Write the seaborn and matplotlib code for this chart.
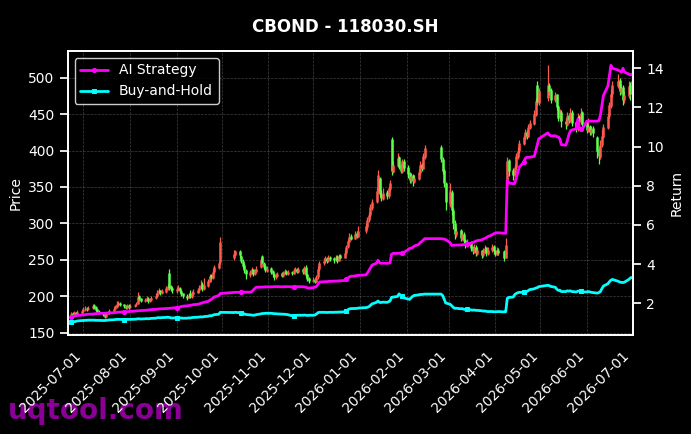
import pandas as pd
import seaborn as sns
import matplotlib.pyplot as plt
import matplotlib.dates as mdates

# Trading days (SSE calendar, holidays removed)
holidays = ['2025-10-01', '2025-10-02', '2025-10-03', '2025-10-06', '2025-10-07', '2025-10-08',
            '2026-01-01', '2026-01-02',
            '2026-02-16', '2026-02-17', '2026-02-18', '2026-02-19', '2026-02-20', '2026-02-23',
            '2026-04-06', '2026-05-01', '2026-05-04', '2026-05-05', '2026-06-19']
dates = pd.bdate_range('2025-06-23', '2026-07-01')
dates = dates[~dates.isin(pd.to_datetime(holidays))]

opens = [
    172, 177, 174, 178, 175, 177,
    180, 181, 184, 182, 184, 188, 185, 182, 179, 178, 176, 172, 176, 177, 180, 183, 185, 189, 191, 189, 187, 184, 188,
    185, 186, 188, 190, 200, 197, 193, 194, 198, 193, 195, 197, 200, 204, 208, 204, 206, 210, 232, 214, 211,
    207, 209, 212, 207, 204, 201, 198, 204, 199, 203, 205, 208, 211, 217, 210, 214, 220, 229, 225, 233, 239, 247,
    252, 257, 262, 255, 249, 243, 236, 229, 232, 237, 230, 234, 240, 255, 246, 241, 235,
    239, 235, 231, 226, 228, 232, 228, 231, 235, 230, 234, 231, 235, 238, 233, 238, 233, 240, 230, 225,
    221, 224, 220, 226, 237, 245, 248, 253, 248, 254, 252, 250, 255, 249, 256, 253, 259, 267, 275, 283, 279, 287, 282,
    289, 295, 304, 311, 321, 330, 344, 362, 341, 334, 343, 337, 347, 416, 371, 379, 391, 379, 371, 386,
    377, 369, 359, 366, 357, 361, 369, 381, 375, 391, 405, 389, 373, 355,
    326, 343, 318, 301, 284, 291, 279, 286, 277, 269, 274, 267, 261, 268, 258, 263, 256, 261, 267, 258, 263, 269,
    263, 257, 264, 262, 253, 358, 387, 373, 365, 377, 391, 399, 409, 417, 426, 419, 431, 437, 449, 490, 465,
    472, 490, 483, 469, 477, 461, 444, 453, 441, 435, 449, 441, 453, 439, 429, 447, 439, 453,
    437, 427, 433, 425, 431, 418, 401, 391, 407, 419, 431, 447, 461, 477, 489, 497, 481, 487, 469, 475, 490,
    477,
]
highs = [
    179, 178, 180, 179, 181, 183,
    185, 186, 185, 187, 189, 190, 186, 183, 181, 179, 177, 178, 180, 182, 185, 188, 193, 194, 192, 190, 188, 189, 189,
    189, 190, 192, 206, 202, 198, 198, 200, 199, 198, 200, 204, 208, 211, 209, 210, 214, 217, 238, 216, 213,
    213, 215, 213, 208, 205, 203, 205, 208, 207, 210, 212, 216, 222, 219, 225, 224, 231, 230, 237, 243, 248, 281,
    263, 264, 263, 256, 251, 245, 238, 236, 240, 238, 238, 241, 252, 257, 247, 243, 241,
    240, 236, 232, 232, 234, 233, 235, 237, 236, 236, 235, 239, 240, 239, 240, 239, 241, 243, 231, 226,
    226, 225, 229, 241, 248, 252, 255, 254, 256, 255, 254, 257, 256, 258, 258, 263, 271, 279, 287, 285, 290, 289, 296,
    300, 309, 316, 326, 334, 350, 373, 364, 346, 348, 346, 352, 360, 418, 386, 396, 393, 381, 389, 388,
    380, 371, 369, 368, 366, 374, 385, 383, 397, 407, 407, 391, 375, 357,
    355, 346, 321, 305, 295, 293, 290, 288, 279, 278, 276, 269, 272, 270, 267, 264, 266, 270, 268, 268, 272, 270,
    264, 267, 266, 263, 280, 391, 389, 376, 382, 396, 405, 414, 422, 430, 428, 437, 442, 455, 472, 496, 486,
    517, 492, 486, 480, 478, 463, 457, 455, 444, 453, 451, 459, 455, 441, 452, 449, 458, 454,
    440, 445, 435, 434, 433, 420, 405, 415, 428, 437, 452, 467, 484, 496, 505, 499, 491, 490, 482, 495, 494,
    515,
]
lows = [
    170, 172, 173, 173, 174, 176,
    178, 180, 180, 181, 183, 183, 180, 177, 175, 173, 170, 171, 175, 176, 179, 182, 184, 187, 186, 184, 182, 183, 183,
    184, 185, 187, 189, 194, 192, 192, 193, 191, 192, 194, 196, 199, 203, 202, 203, 205, 209, 209, 207, 205,
    205, 208, 204, 200, 197, 195, 197, 197, 198, 202, 204, 206, 210, 207, 209, 213, 219, 222, 224, 232, 237, 244,
    250, 255, 253, 245, 239, 232, 224, 227, 231, 228, 229, 233, 239, 244, 237, 233, 233,
    231, 226, 222, 224, 227, 226, 227, 230, 229, 229, 229, 230, 234, 232, 232, 230, 231, 227, 221, 218,
    219, 218, 219, 224, 235, 243, 246, 245, 247, 249, 246, 248, 246, 248, 251, 252, 258, 266, 274, 277, 278, 280, 281,
    287, 293, 302, 309, 319, 328, 342, 336, 331, 332, 333, 335, 345, 366, 369, 377, 374, 369, 369, 372,
    362, 355, 356, 352, 355, 359, 367, 372, 374, 389, 384, 368, 350, 318,
    322, 312, 292, 278, 281, 276, 277, 272, 266, 267, 262, 258, 260, 255, 256, 252, 254, 259, 255, 256, 261, 258,
    255, 256, 257, 249, 252, 355, 365, 359, 363, 375, 389, 397, 407, 415, 416, 418, 429, 435, 447, 462, 463,
    468, 476, 465, 466, 455, 440, 441, 432, 430, 433, 438, 439, 434, 425, 427, 436, 437, 430,
    424, 425, 421, 422, 418, 390, 382, 389, 405, 417, 429, 445, 459, 474, 486, 476, 478, 462, 465, 472, 470,
    474,
]
closes = [
    176, 174, 177, 175, 178, 180,
    181, 183, 182, 184, 186, 184, 181, 179, 177, 175, 172, 176, 178, 180, 183, 186, 190, 191, 188, 186, 184, 187, 185,
    187, 188, 190, 199, 196, 194, 195, 197, 193, 196, 198, 201, 205, 208, 204, 207, 211, 214, 212, 210, 208,
    210, 213, 207, 203, 200, 198, 202, 199, 204, 206, 209, 212, 216, 210, 215, 221, 228, 225, 234, 240, 246, 274,
    258, 262, 256, 248, 242, 236, 230, 233, 237, 231, 235, 238, 250, 246, 240, 236, 238,
    234, 230, 226, 229, 231, 228, 232, 235, 231, 233, 232, 236, 238, 234, 237, 233, 237, 229, 224, 221,
    223, 220, 226, 238, 246, 249, 252, 248, 253, 251, 250, 254, 249, 255, 253, 260, 268, 276, 282, 279, 286, 283, 290,
    296, 305, 312, 322, 330, 345, 366, 340, 335, 342, 338, 348, 356, 372, 380, 390, 378, 372, 385, 376,
    368, 360, 365, 358, 362, 370, 380, 376, 392, 403, 388, 372, 356, 330,
    345, 318, 300, 285, 290, 280, 286, 276, 270, 274, 266, 262, 268, 259, 263, 257, 262, 266, 259, 264, 268, 262,
    258, 263, 260, 252, 270, 385, 372, 366, 378, 392, 400, 410, 418, 425, 420, 432, 438, 450, 468, 466, 482,
    490, 482, 470, 476, 460, 445, 452, 440, 436, 448, 442, 452, 438, 430, 446, 440, 452, 436,
    428, 432, 426, 430, 424, 400, 392, 408, 420, 432, 448, 462, 478, 490, 496, 482, 486, 470, 476, 488, 478,
    495,
]

ai_strategy = [
    1.32, 1.33, 1.35, 1.36, 1.38, 1.40,
    1.41, 1.42, 1.43, 1.44, 1.45, 1.46, 1.47, 1.48, 1.49, 1.49, 1.49, 1.50, 1.50, 1.51, 1.52, 1.53, 1.54, 1.55, 1.55,
    1.56, 1.57, 1.57, 1.58,
    1.59, 1.60, 1.61, 1.62, 1.62, 1.63, 1.64, 1.65, 1.66, 1.67, 1.68, 1.69, 1.70, 1.71, 1.72, 1.72, 1.73, 1.74, 1.74,
    1.75, 1.76,
    1.78, 1.80, 1.81, 1.83, 1.85, 1.87, 1.88, 1.90, 1.91, 1.93, 1.95, 1.97, 2.00, 2.02, 2.05, 2.10, 2.16, 2.20, 2.26,
    2.32, 2.40, 2.50,
    2.55, 2.56, 2.56, 2.57, 2.57, 2.57, 2.57, 2.57, 2.60, 2.68, 2.76, 2.82, 2.83, 2.83, 2.83, 2.84, 2.84,
    2.84, 2.84, 2.85, 2.85, 2.85, 2.84, 2.84, 2.85, 2.85, 2.85, 2.84, 2.83, 2.84, 2.85, 2.85, 2.84, 2.84, 2.82, 2.79, 2.78,
    2.80, 2.83, 2.85, 2.98, 3.09, 3.10, 3.11, 3.10, 3.12, 3.12, 3.13, 3.14, 3.13, 3.15, 3.15, 3.17, 3.22, 3.28, 3.35,
    3.38, 3.40, 3.42, 3.43,
    3.45, 3.55, 3.68, 3.82, 3.95, 4.05, 4.20, 4.08, 4.04, 4.05, 4.04, 4.05, 4.06, 4.50, 4.55, 4.55, 4.56, 4.55, 4.56, 4.58,
    4.75, 4.80, 4.82, 4.85, 4.92, 5.00, 5.10, 5.15, 5.22, 5.30, 5.30, 5.29, 5.28, 5.25,
    5.10, 4.96, 4.96, 4.97, 4.97, 4.98, 4.98, 5.00, 5.01, 5.03, 5.06, 5.10, 5.13, 5.17, 5.20, 5.24, 5.28, 5.31, 5.35,
    5.40, 5.50, 5.55,
    5.58, 5.60, 5.60, 5.58, 5.57, 8.28, 8.15, 8.10, 8.12, 8.40, 8.70, 8.95, 9.20, 9.40, 9.45, 9.45, 9.46, 9.50, 9.80,
    10.10, 10.40,
    10.70, 10.60, 10.55, 10.55, 10.50, 10.50, 10.40, 10.10, 10.07, 10.30, 10.60, 10.80, 10.85, 10.90, 11.40, 10.95,
    10.90, 10.90,
    11.30, 11.30, 11.30, 11.30, 11.30, 11.30, 11.32, 11.60, 12.10, 12.60, 13.10, 13.60, 14.15, 14.00, 13.90, 13.85,
    13.80, 14.00, 13.80, 13.70, 13.65,
    13.70,
]
buy_and_hold = [
    1.03, 1.05, 1.06, 1.08, 1.10, 1.12,
    1.12, 1.13, 1.13, 1.14, 1.14, 1.14, 1.13, 1.13, 1.13, 1.12, 1.12, 1.13, 1.14, 1.15, 1.16, 1.17, 1.18, 1.18, 1.18,
    1.17, 1.17, 1.18, 1.18,
    1.18, 1.19, 1.19, 1.21, 1.21, 1.20, 1.21, 1.22, 1.21, 1.22, 1.23, 1.24, 1.26, 1.27, 1.26, 1.27, 1.28, 1.29, 1.28,
    1.26, 1.25,
    1.26, 1.27, 1.26, 1.25, 1.24, 1.24, 1.26, 1.25, 1.27, 1.28, 1.29, 1.30, 1.31, 1.30, 1.32, 1.34, 1.37, 1.36, 1.39,
    1.42, 1.44, 1.54,
    1.53, 1.54, 1.52, 1.50, 1.48, 1.46, 1.43, 1.41, 1.40, 1.39, 1.40, 1.42, 1.46, 1.48, 1.48, 1.49, 1.49,
    1.49, 1.48, 1.47, 1.47, 1.46, 1.45, 1.45, 1.44, 1.43, 1.42, 1.36, 1.33, 1.36, 1.39, 1.39, 1.39, 1.40, 1.39, 1.38, 1.39,
    1.39, 1.40, 1.45, 1.52, 1.54, 1.54, 1.54, 1.53, 1.54, 1.54, 1.54, 1.55, 1.54, 1.56, 1.55, 1.57, 1.62, 1.67, 1.72,
    1.73, 1.74, 1.74, 1.76,
    1.78, 1.80, 1.83, 1.90, 1.97, 2.05, 2.12, 2.05, 2.04, 2.06, 2.05, 2.08, 2.12, 2.30, 2.32, 2.35, 2.48, 2.40, 2.38, 2.28,
    2.22, 2.20, 2.28, 2.35, 2.40, 2.43, 2.45, 2.45, 2.46, 2.47, 2.47, 2.40, 2.22, 2.02,
    1.95, 1.88, 1.80, 1.74, 1.75, 1.72, 1.73, 1.70, 1.68, 1.69, 1.66, 1.65, 1.66, 1.64, 1.64, 1.62, 1.60, 1.61, 1.59,
    1.58, 1.58, 1.57,
    1.57, 1.57, 1.58, 1.56, 1.57, 2.25, 2.30, 2.32, 2.45, 2.50, 2.54, 2.56, 2.56, 2.58, 2.60, 2.65, 2.70, 2.74, 2.78,
    2.80, 2.85,
    2.92, 2.90, 2.86, 2.82, 2.72, 2.66, 2.67, 2.60, 2.60, 2.64, 2.62, 2.64, 2.60, 2.58, 2.62, 2.63, 2.64, 2.58,
    2.58, 2.60, 2.58, 2.56, 2.55, 2.52, 2.55, 2.60, 2.75, 2.88, 3.00, 3.10, 3.18, 3.22, 3.12, 3.08, 3.07, 3.06, 3.08,
    3.22, 3.30,
    3.32,
]

df = pd.DataFrame({'Fecha': dates, 'Open': opens, 'High': highs, 'Low': lows, 'Close': closes,
                   'AI Strategy': ai_strategy, 'Buy-and-Hold': buy_and_hold})

sns.set_theme(style='dark')
plt.style.use('dark_background')
plt.rcParams.update({'font.family': ['DejaVu Sans'], 'font.size': 10,
                     'xtick.labelsize': 10, 'ytick.labelsize': 10,
                     'axes.labelsize': 10, 'legend.fontsize': 10})

fig, ax = plt.subplots(figsize=(6.91, 4.34), dpi=100)
fig.subplots_adjust(left=0.098, right=0.916, top=0.8825, bottom=0.228)

# velas: rojo sube, verde baja
colores = ['#ff5a4e' if c >= o else '#5cff4a' for o, c in zip(df['Open'], df['Close'])]
ax.vlines(df['Fecha'], df['Low'], df['High'], colors=colores, linewidth=0.9)
ax.vlines(df['Fecha'], df['Open'], df['Close'], colors=colores, linewidth=1.8)
ax.set_ylim(146.8, 536.6)
ax.set_ylabel('Price', color='white')
ax.grid(True, color='gray', linestyle='--', linewidth=0.5, alpha=0.5)

ax2 = ax.twinx()
sns.lineplot(data=df, x='Fecha', y='AI Strategy', ax=ax2, color='magenta', linewidth=2,
             marker='o', markersize=3, markevery=25, markeredgecolor='magenta', label='AI Strategy')
sns.lineplot(data=df, x='Fecha', y='Buy-and-Hold', ax=ax2, color='cyan', linewidth=2,
             marker='s', markersize=3, markevery=25, markeredgecolor='cyan', label='Buy-and-Hold')
ax2.set_ylim(0.38, 14.88)
ax2.set_ylabel('Return', color='white')
ax2.legend(loc='upper left', facecolor='black', edgecolor='white', fontsize=10)

ax.set_xlim(pd.Timestamp('2025-06-20 12:00'), pd.Timestamp('2026-07-01 16:00'))
ax.xaxis.set_major_locator(mdates.MonthLocator())
ax.xaxis.set_major_formatter(mdates.DateFormatter('%Y-%m-%d'))
for lbl in ax.get_xticklabels():
    lbl.set_rotation(45)
    lbl.set_ha('right')
ax.set_xlabel('')
ax2.set_xlabel('')

for a in (ax, ax2):
    for s in a.spines.values():
        s.set_color('white')

fig.suptitle('CBOND - 118030.SH', fontsize=12, fontweight='bold', color='white', y=0.958)
fig.text(0.012, 0.035, 'uqtool.com', fontsize=20, fontweight='bold', color='#8a0096', zorder=-1)

fig.savefig('out.png', dpi=100, facecolor='black')
